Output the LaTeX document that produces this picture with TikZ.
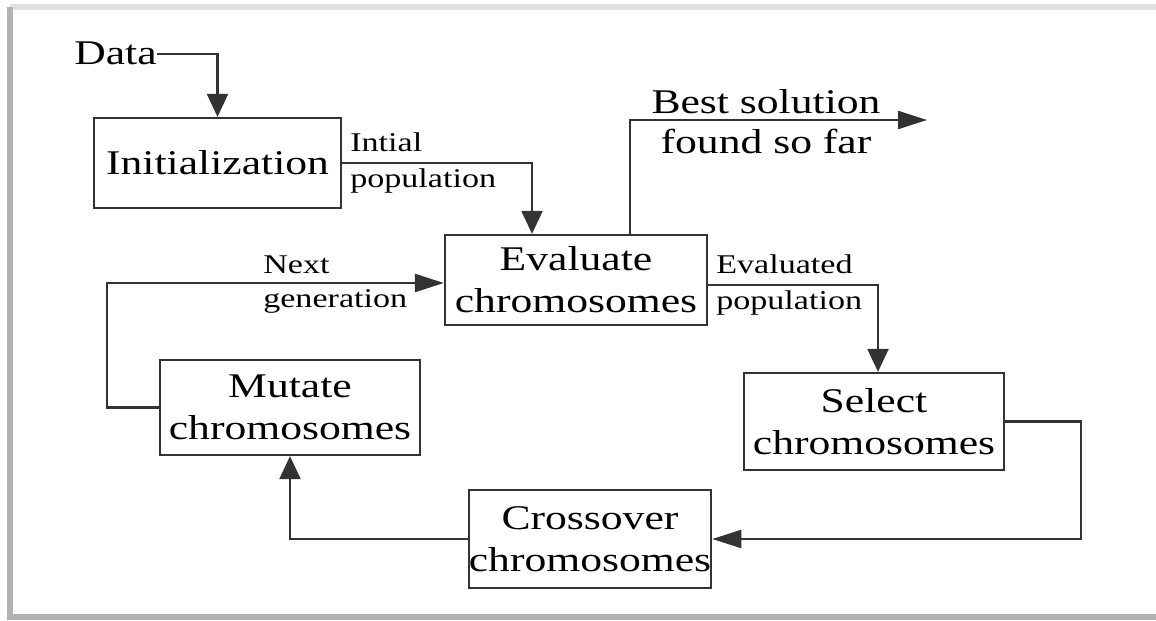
\documentclass[tikz,border=0pt]{standalone}
\usepackage{graphicx}
\usepackage{fontspec}
\setmainfont{Liberation Serif}
\usetikzlibrary{arrows.meta}

% the figure's type is drawn 26 percent wider than high
\newcommand{\wide}[1]{\scalebox{1.26}[1]{#1}}

\tikzset{
  box/.style={draw=black!80,line width=1.3pt,align=center,inner sep=0pt,
    font=\fontsize{19.7}{24}\selectfont},
  lbl/.style={font=\fontsize{15.4}{17}\selectfont,inner xsep=0.14cm},
  lblup/.style={lbl,above right,inner ysep=0.2cm},
  lbldn/.style={lbl,below right,inner ysep=0.1cm},
  line/.style={draw=black!80,line width=1.3pt},
  varr/.style={line,-{Triangle[length=0.46cm,width=0.42cm]}},
  harr/.style={line,-{Triangle[length=0.58cm,width=0.36cm]}}
}

\begin{document}
\begin{tikzpicture}[x=0.02cm,y=-0.02cm]
    \useasboundingbox (0,0) rectangle (1156,621);
    % frame
    \draw[black!12,line width=3pt] (10,7) -- (1156,7);
    \draw[black!30,line width=3pt] (10,7) -- (10,617) -- (1156,617);

    \node[font=\fontsize{19.7}{24}\selectfont,inner sep=0pt,anchor=base east] (data) at (157,65) {\wide{Data}};
    \node[box,minimum width=4.94cm,minimum height=1.8cm] (init) at (217.5,163) {\wide{Initialization}};
    \node[box,minimum width=5.24cm,minimum height=1.8cm] (eval) at (576,280) {\wide{Evaluate}\\\wide{chromosomes}};
    \node[box,minimum width=5.2cm,minimum height=1.94cm] (sel) at (874,421.5) {\wide{Select}\\\wide{chromosomes}};
    \node[box,minimum width=4.8cm,minimum height=1.96cm] (cross) at (590,539) {\wide{Crossover}\\\wide{chromosomes}};
    \node[box,minimum width=5.2cm,minimum height=1.9cm] (mut) at (290,407.5) {\wide{Mutate}\\\wide{chromosomes}};
    \coordinate (best) at (927,120);
    \node[font=\fontsize{19.7}{23}\selectfont,align=center,inner sep=0pt,anchor=north] (bestlbl) at (766,89)
        {\wide{Best solution}\\\wide{found so far}};

    \draw[varr] (data.east) -| (init.north);
    \draw[varr] (init.east) node[lblup] {\wide{Intial}} node[lbldn] {\wide{population}}
        -| ([xshift=-0.88cm]eval.north);
    \draw[harr] ([xshift=1.08cm]eval.north) |- (best);
    \draw[varr] ([yshift=-0.1cm]eval.east) node[lblup] {\wide{Evaluated}} node[lbldn] {\wide{population}}
        -| ([xshift=0.08cm]sel.north);
    \draw[harr] (sel.east) -- ++(76,0) |- (cross.east);
    \draw[varr] (cross.west) -| (mut.south);
    \draw[harr] (mut.west) -- ++(-52,0) |- ([yshift=-0.06cm]eval.west)
        node[lbl,pos=0.72,above right,inner ysep=0.16cm] {\wide{Next}}
        node[lbl,pos=0.72,below right,inner ysep=0.1cm] {\wide{generation}};
\end{tikzpicture}
\end{document}
